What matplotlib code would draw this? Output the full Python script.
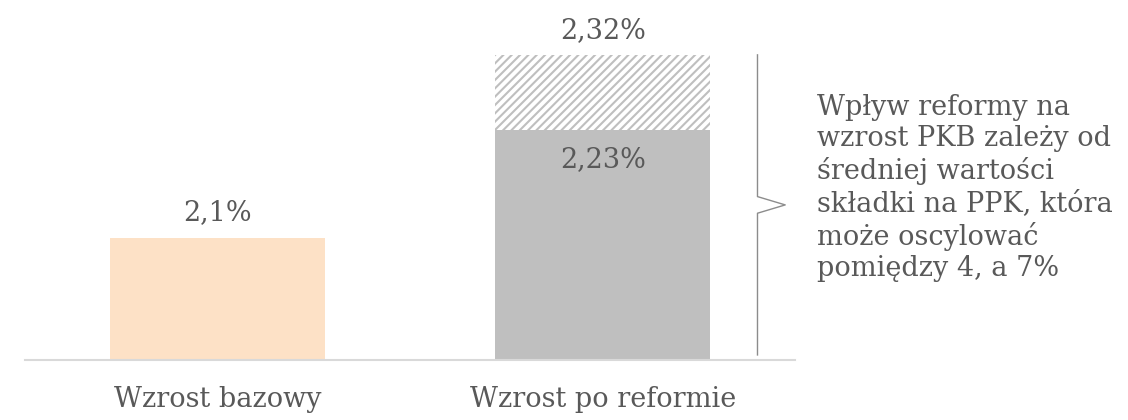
import matplotlib.pyplot as plt
import matplotlib.transforms as mtransforms

# ─── Data ─────────────────────────────────────────────────────────────────────
categories = ["Wzrost bazowy", "Wzrost po reformie"]
base_values = [2.1, 2.23]
upper_value = 2.32           # top of the hatched range (second bar only)
value_labels = ["2,1%", "2,23%"]
upper_label = "2,32%"
note = ("Wpływ reformy na\nwzrost PKB zależy od\nśredniej wartości\n"
        "składki na PPK, która\nmoże oscylować\npomiędzy 4, a 7%")

y_min, y_max = 1.953, 2.362

TEXT = "#595959"
PEACH = "#FDE1C6"
GRAY = "#BFBFBF"
FS = 19.5

plt.rcParams["font.family"] = ["DejaVu Serif"]
plt.rcParams["hatch.linewidth"] = 1.5

fig = plt.figure(figsize=(11.28, 4.2), dpi=100)
ax = fig.add_axes([0.022, 0.143, 0.683, 0.8095])

x = list(range(len(categories)))
w = 0.558
ax.bar(x[0], base_values[0] - y_min, bottom=y_min, width=w,
       color=PEACH, linewidth=0, zorder=2)
ax.bar(x[1], base_values[1] - y_min, bottom=y_min, width=w,
       color=GRAY, linewidth=0, zorder=2)
ax.bar(x[1], upper_value - base_values[1], bottom=base_values[1], width=w,
       color="white", edgecolor=GRAY, hatch="////", linewidth=0, zorder=2)

ax.set_xlim(-0.5, 1.5)
ax.set_ylim(y_min, y_max)

# value labels
ax.annotate(value_labels[0], (x[0], base_values[0]), xytext=(0, 13),
            textcoords="offset points", ha="center", va="baseline",
            fontsize=FS, color=TEXT)
ax.annotate(value_labels[1], (x[1], base_values[1]), xytext=(0, -12),
            textcoords="offset points", ha="center", va="top",
            fontsize=FS, color=TEXT)
ax.annotate(upper_label, (x[1], upper_value), xytext=(0, 12),
            textcoords="offset points", ha="center", va="baseline",
            fontsize=FS, color=TEXT)

# axes styling
for s in ["top", "right", "left"]:
    ax.spines[s].set_visible(False)
ax.spines["bottom"].set_color("#D9D9D9")
ax.spines["bottom"].set_linewidth(1.5)
ax.set_yticks([])
ax.set_xticks(x)
ax.set_xticklabels(categories, fontsize=FS, color=TEXT)
ax.tick_params(axis="x", length=0, pad=19)

# bracket to the right of the bars
tr = mtransforms.blended_transform_factory(ax.transAxes, ax.transData)
b_top, b_bot = upper_value, y_min + 0.006
mid = (b_top + b_bot) / 2
ax.plot([0.951, 0.951, 0.987, 0.951, 0.951],
        [b_top, mid + 0.01, mid, mid - 0.01, b_bot],
        transform=tr, color="#8C8C8C", linewidth=1.0, clip_on=False)

fig.text(817 / 1128, 1 - 188 / 420, note, ha="left", va="center",
         fontsize=FS, color=TEXT, linespacing=1.22)

fig.savefig("out.png", dpi=100, facecolor="white")
plt.close(fig)
